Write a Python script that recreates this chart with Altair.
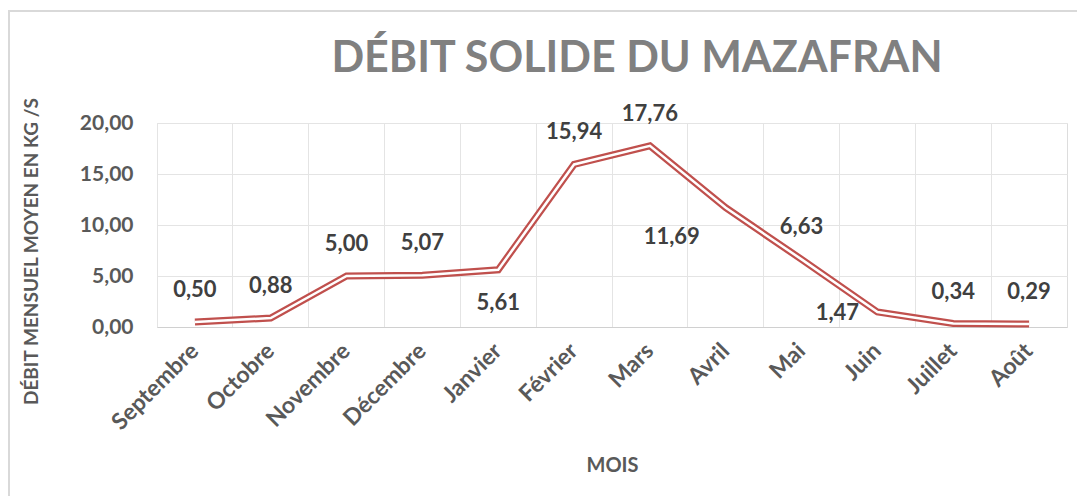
import altair as alt
import pandas as pd

months = ["Septembre", "Octobre", "Novembre", "Décembre", "Janvier", "Février",
          "Mars", "Avril", "Mai", "Juin", "Juillet", "Août"]
debit = [0.50, 0.88, 5.00, 5.07, 5.61, 15.94, 17.76, 11.69, 6.63, 1.47, 0.34, 0.29]
y_ticks = [0, 5, 10, 15, 20]
title_text = "DÉBIT SOLIDE DU MAZAFRAN"

df = pd.DataFrame({"mois": months, "debit": debit})

FONT = "Lato"
RED = "#C0504D"
GRID = "#E4E4E4"

x_scale = alt.Scale(type="band", paddingInner=0, paddingOuter=0)
x_enc = alt.X("mois:N", sort=months, scale=x_scale,
              axis=alt.Axis(title="MOIS", labelAngle=-45, labelAlign="right",
                            labelBaseline="middle", labelPadding=20,
                            labelFont=FONT, labelFontSize=23, labelFontWeight="bold",
                            labelColor="#595959", bandPosition=0, grid=True,
                            gridColor=GRID, ticks=False, domainColor="#D0D0D0",
                            titleFont=FONT, titleFontSize=20, titleFontWeight="bold",
                            titleColor="#595959", titleY=128))
x_plain = alt.X("mois:N", sort=months, scale=x_scale)
y_enc = alt.Y("debit:Q", scale=alt.Scale(domain=[0, 20], nice=False),
              axis=alt.Axis(title="DÉBIT MENSUEL MOYEN EN KG /S", values=y_ticks,
                            labelExpr="replace(format(datum.value, '.2f'), '.', ',')",
                            labelFont=FONT, labelFontSize=21, labelFontWeight="bold",
                            labelColor="#595959", labelPadding=24, ticks=False,
                            domain=False, grid=True, gridColor=GRID,
                            titleFont=FONT, titleFontSize=19, titleFontWeight="bold",
                            titleColor="#595959", titleX=-116, titleY=128))

base = alt.Chart(df)

outer = base.mark_line(color=RED, strokeWidth=7, strokeJoin="miter").encode(x=x_enc, y=y_enc)
inner = base.mark_line(color="white", strokeWidth=2.5, strokeJoin="miter").encode(
    x=x_plain, y="debit:Q")

label_offsets = {
    (0, -32): ["Septembre", "Octobre", "Novembre", "Décembre", "Février", "Mars",
               "Mai", "Juillet", "Août"],
    (0, 33): ["Janvier"],
    (-54, 29): ["Avril"],
    (-40, 1): ["Juin"],
}

text_layers = []
for (dx, dy), ms in label_offsets.items():
    text_layers.append(
        base.transform_filter(alt.FieldOneOfPredicate(field="mois", oneOf=ms))
        .transform_calculate(lab="replace(format(datum.debit, '.2f'), '.', ',')")
        .mark_text(font=FONT, fontSize=22, fontWeight="bold", color="#404040",
                   dx=dx, dy=dy, align="center", baseline="middle")
        .encode(x=x_plain, y="debit:Q", text="lab:N")
    )

deco = alt.Chart(alt.Data(values=[{"t": title_text}]))
border = deco.mark_rect(fill=None, stroke="#D9D9D9", strokeWidth=2).encode(
    x=alt.value(-148), y=alt.value(-112), x2=alt.value(1000), y2=alt.value(500))
title = deco.mark_text(font=FONT, fontSize=43, fontWeight="bold", color="#808080",
                       align="center", baseline="alphabetic").encode(
    x=alt.value(480), y=alt.value(-51), text="t:N")

chart = alt.layer(border, outer, inner, *text_layers, title).properties(
    width=910, height=204,
    autosize=alt.AutoSizeParams(type="none"),
    padding={"left": 149, "top": 115, "right": 10, "bottom": 169},
).configure_view(stroke=GRID).configure(background="white")

chart.save("out.html", embed_options={"renderer": "svg", "actions": False})
